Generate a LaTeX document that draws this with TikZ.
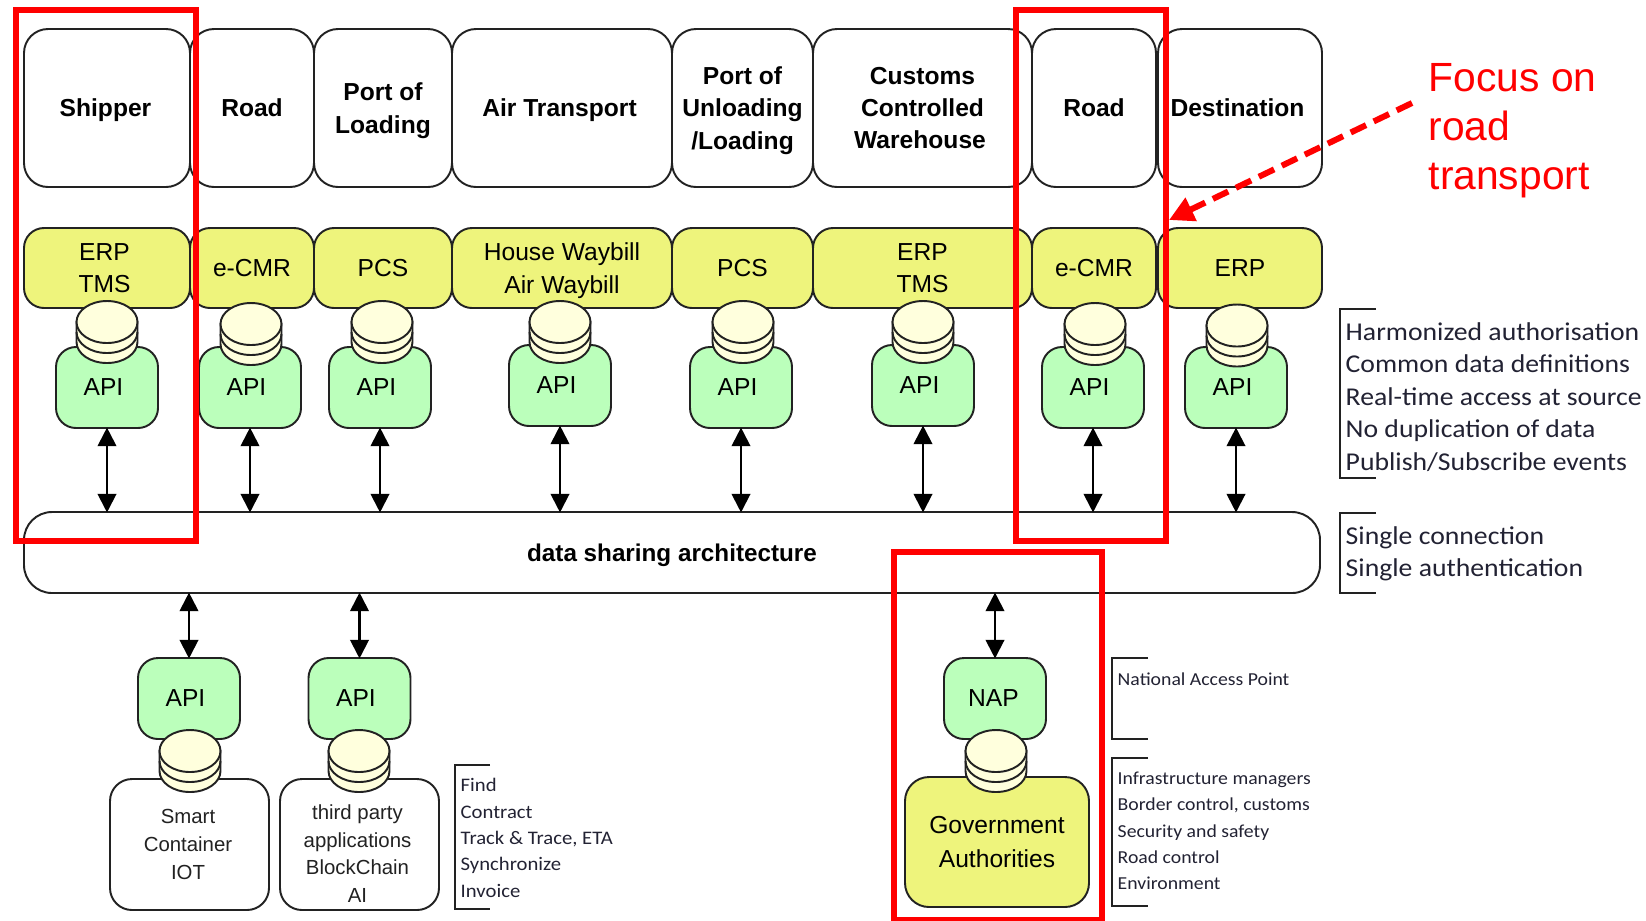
\documentclass[tikz,border=0pt]{standalone}
\usepackage{fontspec}
\setmainfont{Liberation Sans}
\newfontfamily\notefont[FakeStretch=1.08]{Carlito}
\usetikzlibrary{arrows.meta}

\definecolor{stageyellow}{HTML}{EEF47C}
\definecolor{apigreen}{HTML}{BBFFBB}
\definecolor{dbcream}{HTML}{FFFFDD}
\definecolor{edgegrey}{HTML}{222222}
\definecolor{notetext}{HTML}{222233}

\tikzset{
  edge/.style={draw=edgegrey, line width=0.55pt},
  stagebox/.style={edge, rounded corners=0.24cm, fill=white, inner sep=0pt, align=center, minimum height=1.58cm,
    text depth=0pt, font=\fontsize{7}{9.2}\selectfont\bfseries},
  systembox/.style={edge, rounded corners=0.2cm, fill=stageyellow, inner sep=0pt, align=center, minimum height=0.8cm,
    text depth=0pt, font=\fontsize{7}{9.2}\selectfont},
  apibox/.style={edge, rounded corners=0.2cm, fill=apigreen, inner sep=0pt, minimum width=1.02cm, minimum height=0.81cm,
    font=\fontsize{7}{9.2}\selectfont, execute at end node={\kern0.07cm}},
  sourcebox/.style={edge, rounded corners=0.22cm, fill=white, inner sep=0pt, align=center, minimum width=1.59cm, minimum height=1.31cm,
    text=edgegrey, font=\fontsize{5.8}{7.9}\selectfont},
  linkarrow/.style={draw=black, line width=0.6pt, shorten >=-0.4pt, shorten <=-0.4pt,
    {Triangle[length=5.3pt,width=5.3pt]}-{Triangle[length=5.3pt,width=5.3pt]}},
  bracket/.style={edge},
  bignote/.style={inner sep=0pt, anchor=west, align=left, text=notetext, font=\notefont\fontsize{7.3}{9.25}\selectfont},
  smallnote/.style={inner sep=0pt, anchor=west, align=left, text=notetext, font=\notefont\fontsize{5.2}{7.5}\selectfont},
  focusframe/.style={draw=red, line width=0.065cm},
  dbstack/.pic={
    \path[edge, fill=dbcream] (-.305,0) -- (-.305,-.2) arc[start angle=180, end angle=360, x radius=.305, y radius=.21] -- (.305,0) -- cycle;
    \draw[edge] (-.305,-.1) arc[start angle=180, end angle=360, x radius=.305, y radius=.21];
    \path[edge, fill=dbcream] (0,0) ellipse[x radius=.305, y radius=.21];
  }
}

\begin{document}
\begin{tikzpicture}
\useasboundingbox (0,0) rectangle (16.46,-9.2);

% top row
\node[stagebox, minimum width=1.24cm] (road) at (2.52,-1.08) {Road};
\node[stagebox, minimum width=1.24cm] (roadb) at (10.94,-1.08) {Road};
\node[stagebox, minimum width=1.38cm] (loading) at (3.83,-1.08) {Port of\\Loading};
\node[stagebox, minimum width=2.2cm] (air) at (5.62,-1.08) {Air Transport\kern0.05cm};
\node[stagebox, minimum width=1.41cm] (unloading) at (7.425,-1.08) {Port of\\Unloading\\/Loading};
\node[stagebox, minimum width=2.19cm] (customs) at (9.225,-1.08) {Customs\\Controlled\\Warehouse\kern0.05cm};
\node[stagebox, minimum width=1.66cm] (shipper) at (1.07,-1.08) {Shipper\kern0.03cm};
\node[stagebox, minimum width=1.64cm] (destination) at (12.4,-1.08) {Destination\kern0.05cm};

% system row
\node[systembox, minimum width=1.24cm] (cmr) at (2.52,-2.68) {e-CMR};
\node[systembox, minimum width=1.38cm] (pcs) at (3.83,-2.68) {PCS};
\node[systembox, minimum width=2.2cm] (waybill) at (5.62,-2.68) {House Waybill\\Air Waybill};
\node[systembox, minimum width=1.41cm] (pcsb) at (7.425,-2.68) {PCS};
\node[systembox, minimum width=2.19cm] (erpb) at (9.225,-2.68) {ERP\\TMS};
\node[systembox, minimum width=1.24cm] (cmrb) at (10.94,-2.68) {e-CMR};
\node[systembox, minimum width=1.66cm] (erp) at (1.07,-2.68) {ERP\kern0.05cm\\TMS\kern0.05cm};
\node[systembox, minimum width=1.64cm] (erpc) at (12.4,-2.68) {ERP};

% shared layer
\node[edge, rounded corners=0.28cm, fill=white, inner sep=0pt, minimum width=12.96cm, minimum height=0.81cm, text depth=0pt, font=\fontsize{6.9}{9}\selectfont\bfseries] (data) at (6.72,-5.525) {data sharing architecture};

% api row
\node[apibox] (apia) at (1.07,-3.875) {API};
\node[apibox] (apib) at (2.5,-3.875) {API};
\node[apibox] (apic) at (3.8,-3.875) {API};
\node[apibox] (apid) at (5.6,-3.855) {API};
\node[apibox] (apie) at (7.41,-3.875) {API};
\node[apibox] (apif) at (9.23,-3.855) {API};
\node[apibox] (apig) at (10.93,-3.875) {API};
\node[apibox] (apih) at (12.36,-3.875) {API};

\pic at (1.07,-3.22) {dbstack};
\pic at (2.51,-3.24) {dbstack};
\pic at (3.82,-3.22) {dbstack};
\pic at (5.6,-3.22) {dbstack};
\pic at (7.43,-3.22) {dbstack};
\pic at (9.23,-3.22) {dbstack};
\pic at (10.95,-3.24) {dbstack};
\pic at (12.37,-3.255) {dbstack};

\draw[linkarrow] (apia.south) -- (apia.south |- data.north);
\draw[linkarrow] (apib.south) -- (apib.south |- data.north);
\draw[linkarrow] (apic.south) -- (apic.south |- data.north);
\draw[linkarrow] (apid.south) -- (apid.south |- data.north);
\draw[linkarrow] (apie.south) -- (apie.south |- data.north);
\draw[linkarrow] (apif.south) -- (apif.south |- data.north);
\draw[linkarrow] (apig.south) -- (apig.south |- data.north);
\draw[linkarrow] (apih.south) -- (apih.south |- data.north);

% bottom row
\node[apibox] (apij) at (1.89,-6.985) {API};
\node[apibox] (apik) at (3.595,-6.985) {API};
\node[apibox, execute at end node={\kern-0.04cm}] (nap) at (9.95,-6.985) {NAP};

\node[sourcebox] (smart) at (1.895,-8.445) {Smart\kern0.03cm\\Container\kern0.03cm\\IOT\kern0.03cm};
\node[sourcebox, label={[font=\fontsize{5.8}{7.9}\selectfont, text=edgegrey, align=center, yshift=-0.09cm, xshift=-0.02cm]center:third party\\applications\\BlockChain\\AI}] (third) at (3.595,-8.445) {};
\node[edge, rounded corners=0.24cm, fill=stageyellow, inner sep=0pt, align=center, minimum width=1.84cm, minimum height=1.3cm, font=\fontsize{7}{9.4}\selectfont] (gov) at (9.97,-8.42) {Government\\Authorities};

\pic at (1.9,-7.51) {dbstack};
\pic at (3.59,-7.51) {dbstack};
\pic at (9.96,-7.51) {dbstack};

\draw[linkarrow] (apij.north) -- (apij.north |- data.south);
\draw[linkarrow] (apik.north) -- (apik.north |- data.south);
\draw[linkarrow] (nap.north) -- (nap.north |- data.south);

% side notes
\draw[bracket] (13.76,-3.09) -- (13.4,-3.09) -- (13.4,-4.78) -- (13.76,-4.78);
\draw[bracket] (13.76,-5.13) -- (13.4,-5.13) -- (13.4,-5.93) -- (13.76,-5.93);
\draw[bracket] (11.48,-6.58) -- (11.12,-6.58) -- (11.12,-7.39) -- (11.48,-7.39);
\draw[bracket] (11.48,-7.58) -- (11.12,-7.58) -- (11.12,-9.06) -- (11.48,-9.06);
\draw[bracket] (4.9,-7.65) -- (4.55,-7.65) -- (4.55,-9.09) -- (4.9,-9.09);

\node[bignote] (principles) at (13.45,-3.97) {Harmonized authorisation\\Common data definitions\\Real-time access at source\\No duplication of data\\Publish/Subscribe events};
\node[bignote] (single) at (13.45,-5.54) {Single connection\\Single authentication};
\node[smallnote] (access) at (11.17,-6.79) {National Access Point};
\node[smallnote] (authorities) at (11.17,-8.31) {Infrastructure managers\\Border control, customs\\Security and safety\\Road control\\Environment};
\node[smallnote, font=\notefont\fontsize{5.45}{7.5}\selectfont] (services) at (4.6,-8.38) {Find\\Contract\\Track \& Trace, ETA\\Synchronize\\Invoice};

% red focus marks
\draw[focusframe] (0.16,-0.1) rectangle (1.96,-5.41);
\draw[focusframe] (10.16,-0.1) rectangle (11.66,-5.41);
\draw[focusframe] (8.94,-5.52) rectangle (11.02,-9.2);

\node[inner sep=0pt, anchor=north west, align=left, text=red, font=\fontsize{11.6}{14}\selectfont] (focus) at (14.28,-0.625) {Focus on\\road\\transport};
\coordinate (focustail) at (14.12,-1.03);
\coordinate (focushead) at (11.69,-2.2);
\draw[red, line width=0.06cm, dash pattern=on 0.17cm off 0.085cm, -{Triangle[length=7pt,width=7pt]}] (focustail) -- (focushead);

\end{tikzpicture}
\end{document}
